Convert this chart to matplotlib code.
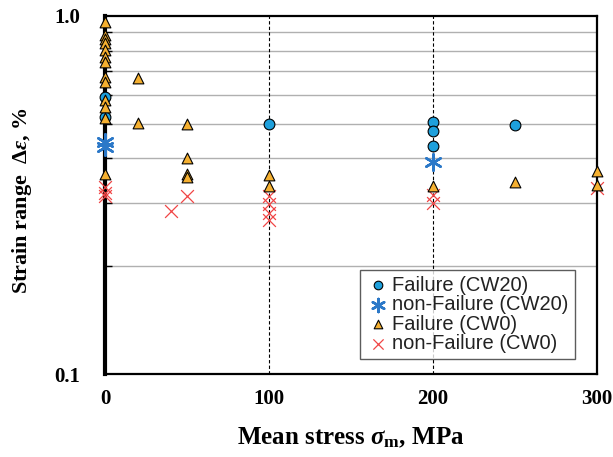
import numpy as np
import matplotlib.pyplot as plt
from matplotlib.ticker import FixedLocator, NullFormatter

plt.rcParams["mathtext.fontset"] = "custom"
plt.rcParams["mathtext.rm"] = "Liberation Serif:bold"
plt.rcParams["mathtext.it"] = "Liberation Serif:italic:bold"
plt.rcParams["mathtext.bf"] = "Liberation Serif:bold"

# Failure, CW20 (circles)
fail_cw20_x = [0, 0, 100, 200, 200, 200, 250]
fail_cw20_y = [0.593, 0.521, 0.500, 0.505, 0.476, 0.432, 0.495]

# non-Failure, CW20 (asterisks)
run_cw20_x = [0, 0, 200]
run_cw20_y = [0.444, 0.430, 0.390]

# Failure, CW0 (triangles)
fail_cw0_x = [0, 0, 0, 0, 0, 0, 0, 0, 0, 0, 0, 0, 0,
              20, 20, 50, 50, 50, 50, 100, 100, 200, 250, 300, 300]
fail_cw0_y = [0.962, 0.885, 0.862, 0.840, 0.803, 0.768, 0.743, 0.675, 0.653,
              0.582, 0.556, 0.518, 0.363,
              0.670, 0.501, 0.500, 0.400, 0.363, 0.354, 0.359, 0.334,
              0.336, 0.343, 0.370, 0.338]

# non-Failure, CW0 (crosses)
run_cw0_x = [0, 0, 0, 40, 50, 100, 100, 100, 100, 200, 200, 300]
run_cw0_y = [0.332, 0.321, 0.315, 0.286, 0.315, 0.315, 0.299, 0.282, 0.270,
             0.316, 0.300, 0.330]

W, H = 613, 457
fig = plt.figure(figsize=(W / 100, H / 100), dpi=100)
ax = fig.add_axes([105 / W, 1 - 374 / H, 492 / W, 358 / H])

ax.set_yscale("log")
ax.set_xlim(0, 300)
ax.set_ylim(0.1, 1.0)

for v in np.arange(0.2, 1.0, 0.1):
    ax.axhline(v, color="#b0b0b0", lw=1.0, zorder=1)
for v in (100, 200):
    ax.axvline(v, color="black", lw=0.8, ls=(0, (3, 2)), zorder=1)

ax.scatter(fail_cw20_x, fail_cw20_y, s=60, marker="o", facecolor="#1ea0dc",
           edgecolor="black", linewidth=0.8, zorder=4, clip_on=False,
           label="Failure (CW20)")
ax.scatter(run_cw20_x, run_cw20_y, s=140, marker=(6, 2, 0), color="#2b78c8",
           linewidth=1.8, zorder=3, clip_on=False, label="non-Failure (CW20)")
ax.scatter(fail_cw0_x, fail_cw0_y, s=60, marker="^", facecolor="#f5b030",
           edgecolor="black", linewidth=0.8, zorder=4, clip_on=False,
           label="Failure (CW0)")
ax.scatter(run_cw0_x, run_cw0_y, s=85, marker="x", color="#f04545",
           linewidth=0.9, zorder=3, clip_on=False, label="non-Failure (CW0)")

ax.set_xticks([0, 100, 200, 300])
ax.set_xticklabels(["0", "100", "200", "300"])
ax.yaxis.set_major_locator(FixedLocator([0.1, 1.0]))
ax.set_yticklabels(["0.1", "1.0"])
ax.yaxis.set_minor_locator(FixedLocator(np.arange(0.2, 1.0, 0.1)))
ax.yaxis.set_minor_formatter(NullFormatter())
ax.tick_params(axis="x", which="major", length=0, pad=11, labelsize=15)
ax.tick_params(axis="y", which="major", length=0, pad=18, labelsize=15)
ax.tick_params(axis="y", which="minor", direction="in", length=5, width=1.0)
for lab in ax.get_xticklabels() + ax.get_yticklabels():
    lab.set_fontfamily("Liberation Serif")
    lab.set_fontweight("bold")

for side in ("top", "right", "bottom"):
    ax.spines[side].set_linewidth(1.6)
ax.spines["left"].set_linewidth(3.0)

fig.text(351 / W, 1 - 438 / H, r"Mean stress $\sigma_{\rm m}$, MPa",
         fontsize=18, fontfamily="Liberation Serif", fontweight="bold",
         ha="center", va="center")
fig.text(22 / W, 1 - 201 / H, r"Strain range  $\mathit{\Delta\varepsilon}$, %",
         fontsize=16, fontfamily="Liberation Serif", fontweight="bold",
         rotation=90, ha="center", va="center")

leg = ax.legend(loc="lower right", bbox_to_anchor=(0.955, 0.042),
                prop={"family": "Liberation Sans", "size": 14.5},
                frameon=True, fancybox=False, edgecolor="#333333",
                handletextpad=0.1, handlelength=1.2, borderpad=0.3,
                labelspacing=0.02, borderaxespad=0.0, markerscale=0.8)
leg.get_frame().set_linewidth(1.0)
for t in leg.get_texts():
    t.set_color("#222222")

fig.savefig("out.png", dpi=100)
